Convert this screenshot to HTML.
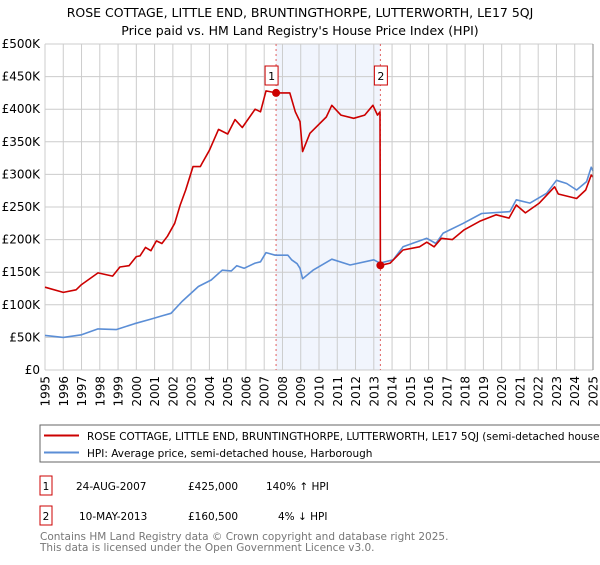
<!DOCTYPE html>
<html><head><meta charset="utf-8"><style>
body{margin:0;background:#fff;width:600px;height:560px;overflow:hidden;font-family:"Liberation Sans","DejaVu Sans",sans-serif;}
svg text{font-family:"DejaVu Sans","Liberation Sans",sans-serif;}
</style></head><body>
<svg id="c" width="600" height="560" xmlns="http://www.w3.org/2000/svg">
<text x="300" y="17" text-anchor="middle" font-size="12.5" fill="#000">ROSE COTTAGE, LITTLE END, BRUNTINGTHORPE, LUTTERWORTH, LE17 5QJ</text>
<text x="300" y="35" text-anchor="middle" font-size="12.5" fill="#000">Price paid vs. HM Land Registry's House Price Index (HPI)</text>
<g id="grid"></g><g id="marks"></g><g id="axes"></g>
<rect x="40" y="425" width="570" height="37" fill="#fff" stroke="#666"/>
<line x1="44" y1="435.5" x2="79" y2="435.5" stroke="#cc0000" stroke-width="2"/>
<text x="87" y="440" font-size="10.5">ROSE COTTAGE, LITTLE END, BRUNTINGTHORPE, LUTTERWORTH, LE17 5QJ (semi-detached house)</text>
<line x1="44" y1="452.5" x2="79" y2="452.5" stroke="#5b8ed6" stroke-width="2"/>
<text x="87" y="457" font-size="10.5">HPI: Average price, semi-detached house, Harborough</text>
<g>
<rect x="40" y="476" width="12" height="19" fill="#fff" stroke="#cc0000"/><text x="46" y="490" font-size="10.5" text-anchor="middle">1</text>
<text x="76" y="490" font-size="10.5">24-AUG-2007</text><text x="188" y="490" font-size="10.5">£425,000</text><text x="266" y="490" font-size="10.5">140% ↑ HPI</text></g>
<g>
<rect x="40" y="506" width="12" height="19" fill="#fff" stroke="#cc0000"/><text x="46" y="520" font-size="10.5" text-anchor="middle">2</text>
<text x="79" y="520" font-size="10.5">10-MAY-2013</text><text x="188" y="520" font-size="10.5">£160,500</text><text x="278" y="520" font-size="10.5">4% ↓ HPI</text></g>
<text x="40" y="540" font-size="10.5" fill="#777">Contains HM Land Registry data © Crown copyright and database right 2025.</text>
<text x="40" y="551" font-size="10.5" fill="#777">This data is licensed under the Open Government Licence v3.0.</text>
</svg>
<script>
const hpiYears=[1995,1996,1997,1997.9,1998.9,1999.9,2000.8,2001.4,2001.9,2002.5,2003.4,2004.1,2004.7,2005.2,2005.5,2005.9,2006.5,2006.8,2007.1,2007.6,2008.3,2008.5,2008.8,2008.96,2009.1,2009.67,2010.7,2011.7,2013.0,2013.33,2014.06,2014.6,2015.9,2016.4,2016.8,2017.9,2018.9,2020.45,2020.8,2021.55,2022.46,2023.0,2023.56,2024.1,2024.65,2024.9,2025];
const hpiValues=[53,50,54,63,62,71,78,83,87,105,128,138,153,152,160,156,164,166,180,176,176,169,163,156,140,153,170,161,169,164,169,189,202,194,210,225,240,243,261,256,271,291,286,276,289,311,305];
const priceYears=[1995,1996,1996.7,1997,1997.9,1998.7,1999.1,1999.6,2000,2000.2,2000.5,2000.8,2001.1,2001.4,2001.7,2002.1,2002.4,2002.7,2003.1,2003.5,2003.6,2004.0,2004.5,2005.0,2005.4,2005.8,2006.5,2006.8,2007.1,2007.65,2008.1,2008.4,2008.7,2008.96,2009.1,2009.5,2010.4,2010.7,2011.2,2011.9,2012.5,2012.95,2013.2,2013.34,2013.36,2013.9,2014.6,2015.5,2015.9,2016.3,2016.7,2017.3,2017.95,2018.8,2019.7,2020.4,2020.8,2021.3,2022.06,2022.9,2023.1,2024.1,2024.6,2024.9,2025];
const priceValues=[127,119,123,131,149,144,158,160,174,175,188,183,198,194,205,225,253,276,312,312,317,337,369,362,384,372,400,396,428,425,425,425,396,381,335,363,388,406,391,386,391,406,391,396,160.5,164,184,189,196,189,202,200,215,228,238,233,253,241,256,281,270,263,276,299,296];
const saleYears=[2007.65,2013.36];
const saleValues=[425,160.5];
const yTicks=[0,50,100,150,200,250,300,350,400,450,500];
const yLabels=["£0","£50K","£100K","£150K","£200K","£250K","£300K","£350K","£400K","£450K","£500K"];
const xTicks=[];for(let y=1995;y<=2025;y++)xTicks.push(y);
const X0=45,X1=593,Y0=370,Y1=44;
const xs=y=>X0+(y-1995)/30*(X1-X0);
const ys=v=>Y0-v/500*(Y0-Y1);
const NS="http://www.w3.org/2000/svg";
function mk(tag,attrs,parent){const e=document.createElementNS(NS,tag);for(const k in attrs)e.setAttribute(k,attrs[k]);document.getElementById(parent).appendChild(e);return e;}
let e=mk('rect',{x:xs(saleYears[0]),y:Y1,width:xs(saleYears[1])-xs(saleYears[0]),height:Y0-Y1,fill:'#eef3fc',opacity:0.8},'grid');


xTicks.forEach(t=>{const l=mk('line',{x1:xs(t),x2:xs(t),y1:Y1,y2:Y0,stroke:'#ccc','stroke-width':1},'grid');


const tx=mk('text',{x:0,y:0,'font-size':12,'text-anchor':'end',transform:'translate('+(xs(t)+4.5)+',376) rotate(-90)'},'axes');tx.textContent=t;

});
yTicks.forEach((t,i)=>{const l=mk('line',{x1:X0,x2:X1,y1:ys(t),y2:ys(t),stroke:'#ccc','stroke-width':1},'grid');


const tx=mk('text',{x:40,y:ys(t)+4,'font-size':12,'text-anchor':'end'},'axes');tx.textContent=yLabels[i];

});
const ax=mk('line',{x1:X1,x2:X1,y1:Y1,y2:Y0,stroke:'#888','stroke-width':1},'axes');


saleYears.forEach((s,i)=>{const l=mk('line',{x1:xs(s),x2:xs(s),y1:Y1,y2:Y0,stroke:'#e06060','stroke-dasharray':'2,3','stroke-width':1},'marks');

});
function path(xa,va,col,name){let d=xa.map((x,i)=>(i?'L':'M')+xs(x).toFixed(1)+','+ys(va[i]).toFixed(1)).join('');
const p=mk('path',{d:d,fill:'none',stroke:col,'stroke-width':1.6,'stroke-linejoin':'round'},'marks');

}
path(hpiYears,hpiValues,'#5b8ed6','hpi-line');
path(priceYears,priceValues,'#cc0000','price-line');
saleYears.forEach((s,i)=>{const c=mk('circle',{cx:xs(s),cy:ys(saleValues[i]),r:4,fill:'#cc0000'},'marks');


const bx=xs(s)-(i?5:10);
const r=mk('rect',{x:bx-1,y:66,width:13,height:19,fill:'#fff',stroke:'#cc0000'},'marks');


const t=mk('text',{x:bx+5.5,y:80,'font-size':11,'text-anchor':'middle'},'marks');t.textContent=i+1;

});
</script>
</body></html>
